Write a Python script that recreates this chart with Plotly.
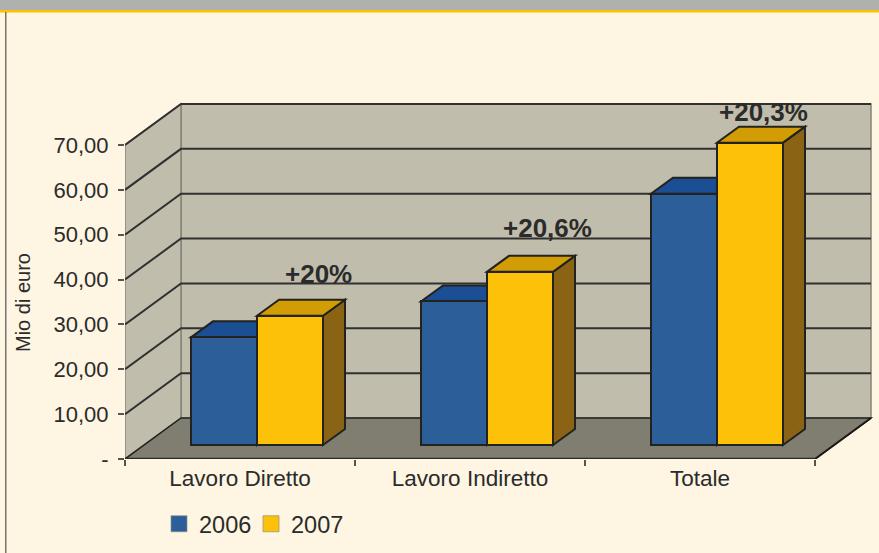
import plotly.graph_objects as go

# ---- data ----
categories = ["Lavoro Diretto", "Lavoro Indiretto", "Totale"]
values_2006 = [24.0, 32.0, 56.0]
values_2007 = [28.8, 38.6, 67.4]
growth_labels = ["+20%", "+20,6%", "+20,3%"]
y_ticks = [0, 10, 20, 30, 40, 50, 60, 70]
y_tick_labels = ["-", "10,00", "20,00", "30,00", "40,00", "50,00", "60,00", "70,00"]

# ---- geometry / style ----
W, H = 879, 553
L, R, T, B = 125, 875, 101, 459          # plot area in page pixels
PX_X = 230.0                             # pixels per category
PX_Y = 4.486                             # pixels per value unit
WALL_DX, WALL_DY = 56 / PX_X, 41 / PX_Y  # depth of the chart box
BAR_DX, BAR_DY = 22 / PX_X, 16 / PX_Y    # depth of a bar
BAR_W = 66 / PX_X
BAR_BASE = 14 / PX_Y
BAR_SHIFT = 17 / PX_X
FONT = "Liberation Sans"
INK = "#2b2b2b"
EDGE = "#22221e"
label_dx = [28, 27, 13]
label_dy = [-42, -44, -31]


def poly(points):
    return "M" + "L".join(f"{x},{y}" for x, y in points) + "Z"


def px_x(p):
    return (p - L) / (R - L)


def px_y(p):
    return (B - p) / (B - T)


shapes = []
n = len(categories)
wall = "#c1bdac"
floor = "#7f7e70"

# frame
shapes += [
    dict(type="rect", xref="paper", yref="paper", x0=px_x(0), x1=px_x(W), y0=px_y(0), y1=px_y(10),
         fillcolor="#b0b0ae", line_width=0, layer="below"),
    dict(type="rect", xref="paper", yref="paper", x0=px_x(0), x1=px_x(W), y0=px_y(10), y1=px_y(12.5),
         fillcolor="#fdc300", line_width=0, layer="below"),
    dict(type="rect", xref="paper", yref="paper", x0=px_x(5), x1=px_x(6.5), y0=px_y(12), y1=px_y(H),
         fillcolor="#77756c", line_width=0, layer="below"),
]
top = y_ticks[-1]
# back wall, side wall, floor
shapes.append(dict(type="path", path=poly([(WALL_DX, WALL_DY), (n + WALL_DX, WALL_DY),
                                           (n + WALL_DX, top + WALL_DY), (WALL_DX, top + WALL_DY)]),
                   fillcolor=wall, line=dict(color="#85847a", width=1.5), layer="below"))
shapes.append(dict(type="path", path=poly([(0, 0), (WALL_DX, WALL_DY), (WALL_DX, top + WALL_DY), (0, top)]),
                   fillcolor=wall, line=dict(color="#85847a", width=1.5), layer="below"))
shapes.append(dict(type="path", path=poly([(0, 0), (n, 0), (n + WALL_DX, WALL_DY), (WALL_DX, WALL_DY)]),
                   fillcolor=floor, line=dict(color=EDGE, width=1.5), layer="below"))
# gridlines on both walls
for v in y_ticks[1:]:
    shapes.append(dict(type="path",
                       path=f"M0,{v}L{WALL_DX},{v + WALL_DY}L{n + WALL_DX},{v + WALL_DY}",
                       line=dict(color="#303030", width=2), layer="below"))
shapes.append(dict(type="line", x0=n, y0=0, x1=n + WALL_DX, y1=WALL_DY,
                   line=dict(color="#1a1a1a", width=2), layer="below"))
shapes.append(dict(type="line", x0=0, y0=0, x1=n, y1=0,
                   line=dict(color="#2a2a26", width=2.5), layer="below"))

# bar side and top faces
x_2006 = [i + 0.5 + BAR_SHIFT - BAR_W / 2 for i in range(n)]
x_2007 = [i + 0.5 + BAR_SHIFT + BAR_W / 2 for i in range(n)]
for xs, vals, c_top, c_side in [(x_2006, values_2006, "#1b4e92", "#173f73"),
                                (x_2007, values_2007, "#d29c05", "#8a6414")]:
    for xc, v in zip(xs, vals):
        x0, x1 = xc - BAR_W / 2, xc + BAR_W / 2
        y0, y1 = BAR_BASE, BAR_BASE + v
        shapes.append(dict(type="path", path=poly([(x1, y0), (x1 + BAR_DX, y0 + BAR_DY),
                                                   (x1 + BAR_DX, y1 + BAR_DY), (x1, y1)]),
                           fillcolor=c_side, line=dict(color=EDGE, width=2), layer="below"))
        shapes.append(dict(type="path", path=poly([(x0, y1), (x1, y1), (x1 + BAR_DX, y1 + BAR_DY),
                                                   (x0 + BAR_DX, y1 + BAR_DY)]),
                           fillcolor=c_top, line=dict(color=EDGE, width=2), layer="below"))

fig = go.Figure()
for name, xs, vals, color in [("2006", x_2006, values_2006, "#2c5f9a"),
                              ("2007", x_2007, values_2007, "#fec10a")]:
    fig.add_trace(go.Bar(x=xs, y=vals, base=BAR_BASE, width=BAR_W, name=name,
                         marker=dict(color=color, line=dict(color=EDGE, width=2)),
                         showlegend=False, hoverinfo="skip"))
    fig.add_trace(go.Scatter(x=[None], y=[None], mode="markers", name=name,
                             marker=dict(symbol="square", size=16, color=color,
                                         line=dict(color="#8f8f80", width=0.7))))

annotations = [
    dict(x=xc, y=BAR_BASE + v, text=f"<b>{t}</b>", showarrow=False, xshift=dx, yshift=-dy,
         font=dict(family=FONT, size=26, color=INK))
    for xc, v, t, dx, dy in zip(x_2007, values_2007, growth_labels, label_dx, label_dy)
]
annotations.append(dict(x=px_x(23), y=px_y(302), xref="paper", yref="paper", text="Mio di euro",
                        textangle=-90, showarrow=False, xanchor="center", yanchor="middle",
                        font=dict(family=FONT, size=20, color=INK)))

fig.update_layout(
    width=W, height=H, autosize=False,
    margin=dict(l=L, r=W - R, t=T, b=H - B, pad=0),
    paper_bgcolor="#fef5e2", plot_bgcolor="rgba(0,0,0,0)",
    barmode="overlay", bargap=0,
    font=dict(family=FONT, color=INK),
    shapes=shapes, annotations=annotations,
    legend=dict(orientation="h", x=px_x(159), y=px_y(502), xanchor="left", yanchor="top",
                font=dict(family=FONT, size=23.5, color=INK), bgcolor="rgba(0,0,0,0)",
                itemwidth=30, entrywidthmode="pixels", entrywidth=47),
    xaxis=dict(range=[0, (R - L) / PX_X], showgrid=False, zeroline=False,
               tickmode="array", tickvals=[i + 0.5 for i in range(n)], ticktext=categories,
               ticks="", ticklabelstandoff=3,
               tickfont=dict(family=FONT, size=22.5, color=INK), showline=False,
               minor=dict(tickmode="array", tickvals=list(range(n + 1)), ticks="outside",
                          ticklen=6, tickcolor="#55554d", tickwidth=1.5, showgrid=False)),
    yaxis=dict(range=[0, (B - T) / PX_Y], showgrid=False, zeroline=False,
               tickmode="array", tickvals=y_ticks, ticktext=y_tick_labels,
               ticks="outside", ticklen=6, tickcolor="#55554d", tickwidth=1.5, ticklabelstandoff=5,
               tickfont=dict(family=FONT, size=22, color=INK), showline=False),
)
fig.write_html("out.html", config=dict(displayModeBar=False),
               post_script="document.body.style.margin='0';")
